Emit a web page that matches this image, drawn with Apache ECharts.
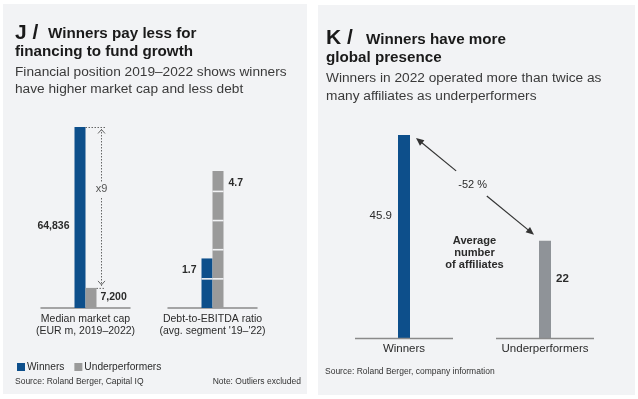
<!DOCTYPE html>
<html>
<head>
<meta charset="utf-8">
<script src="https://cdn.jsdelivr.net/npm/echarts@6/dist/echarts.min.js"></script>
<style>
  html, body { margin: 0; padding: 0; background: #fff; }
  #chart { width: 638px; height: 399px; }
</style>
</head>
<body>
<div id="chart"></div>
<script>
// data
const capCategories = ['Median market cap\n(EUR m, 2019–2022)'];
const capWinners = [64836];
const capUnder = [7200];
const capRatioLabel = 'x9';

const debtCategories = ["Debt-to-EBITDA ratio\n(avg. segment '19–'22)"];
const debtWinners = [1.7];
const debtUnder = [4.7];

const affCategories = ['Winners', 'Underperformers'];
const affValues = [45.9, 22];
const affChangeLabel = '-52 %';

const BLUE = '#0d4f8b';
const GREY = '#9a9a9a';
const GREY_R = '#8f9398';
const PANEL = '#f2f3f5';
const TEXT = '#2b2b2b';
const FONT = '"Liberation Sans", Arial, sans-serif';

const chart = echarts.init(document.getElementById('chart'));

function txt(id, x, y, text, size, opts) {
    opts = opts || {};
    return {
        type: 'text', id: id, x: x, y: y, z: 5,
        style: {
            text: text,
            font: (opts.weight || 'normal') + ' ' + size + 'px ' + FONT,
            fill: opts.color || TEXT,
            align: opts.align || 'left',
            verticalAlign: 'middle',
            lineHeight: opts.lineHeight
        }
    };
}

function numLabel(pos, align, bold, size) {
    return {
        show: true, position: pos, align: align, verticalAlign: 'middle',
        fontSize: size || 10.5, fontWeight: bold ? 'bold' : 'normal', color: TEXT,
        formatter: p => Number(p.value).toLocaleString('en-US')
    };
}

const catAxis = (gi, data, showLine) => ({
    type: 'category', gridIndex: gi, data: data,
    axisTick: { show: false },
    axisLine: { show: showLine, lineStyle: { color: '#8a8a8a', width: 1.5 } },
    axisLabel: {
        color: TEXT, fontSize: gi === 2 ? 11.5 : 10.5, lineHeight: 12,
        margin: 5, interval: 0
    }
});
const valAxis = gi => ({
    type: 'value', gridIndex: gi, min: 0, max: v => v.max, show: false
});

chart.setOption({
    animation: false,
    textStyle: { fontFamily: FONT },
    grid: [
        { left: 41, top: 127, width: 89, height: 181 },
        { left: 168, top: 171, width: 89, height: 137 },
        { left: 333.5, top: 135, width: 282, height: 203 }
    ],
    xAxis: [catAxis(0, capCategories, true), catAxis(1, debtCategories, true), catAxis(2, affCategories, false)],
    yAxis: [valAxis(0), valAxis(1), valAxis(2)],
    legend: {
        left: 12, top: 357, itemWidth: 8, itemHeight: 8, itemGap: 10,
        icon: 'rect', data: ['Winners', 'Underperformers'],
        textStyle: { color: TEXT, fontSize: 10.2, padding: [0, 0, 0, -3] },
        selectedMode: false
    },
    series: [
        {
            type: 'bar', name: 'Winners', xAxisIndex: 0, yAxisIndex: 0, data: capWinners,
            barWidth: 11, barGap: '0%', itemStyle: { color: BLUE },
            label: numLabel([-5, '55%'], 'right', true)
        },
        {
            type: 'bar', name: 'Underperformers', xAxisIndex: 0, yAxisIndex: 0, data: capUnder,
            barWidth: 11, barGap: '0%', itemStyle: { color: GREY },
            label: numLabel([15, 9], 'left', true)
        },
        {
            type: 'bar', name: 'Winners', xAxisIndex: 1, yAxisIndex: 1, data: debtWinners,
            barWidth: 11, barGap: '0%', itemStyle: { color: BLUE },
            label: numLabel([-5, 12], 'right', true)
        },
        {
            type: 'bar', name: 'Underperformers', xAxisIndex: 1, yAxisIndex: 1, data: debtUnder,
            barWidth: 11, barGap: '0%', itemStyle: { color: GREY },
            label: numLabel([16, 12], 'left', true)
        },
        {
            // thin gaps every unit on the debt bars
            type: 'custom', xAxisIndex: 1, yAxisIndex: 1, z: 3, silent: true,
            data: [[0, debtWinners[0], -1], [0, debtUnder[0], 1]],
            renderItem: (params, api) => {
                const val = api.value(1), side = api.value(2);
                const c0 = api.coord([api.value(0), 0]);
                const x0 = side < 0 ? c0[0] - 11 : c0[0];
                const children = [];
                for (let k = 1; k < val; k++) {
                    const y = api.coord([api.value(0), k])[1];
                    children.push({
                        type: 'rect',
                        shape: { x: x0, y: y - 0.8, width: 11, height: 1.6 },
                        style: { fill: PANEL }
                    });
                }
                return { type: 'group', children: children };
            }
        },
        {
            type: 'bar', name: 'Affiliates', xAxisIndex: 2, yAxisIndex: 2, barWidth: 12,
            data: affValues.map((v, i) => ({
                value: v,
                itemStyle: { color: i === 0 ? BLUE : GREY_R },
                label: i === 0
                    ? numLabel([-6, '40%'], 'right', false, 11.5)
                    : numLabel([17, '39%'], 'left', true, 11.5)
            }))
        },
        {
            // separate baseline under each category
            type: 'custom', xAxisIndex: 2, yAxisIndex: 2, z: 3, silent: true,
            data: affCategories.map((c, i) => [i, 0]),
            renderItem: (params, api) => {
                const c = api.coord([api.value(0), 0]);
                return {
                    type: 'line',
                    shape: { x1: c[0] - 49, y1: c[1] + 0.5, x2: c[0] + 49, y2: c[1] + 0.5 },
                    style: { stroke: '#8a8a8a', lineWidth: 1.5 }
                };
            }
        }
    ],
    graphic: { elements: [
        { type: 'rect', id: 'bgL', z: -10, shape: { x: 3, y: 4, width: 304, height: 390 }, style: { fill: PANEL } },
        { type: 'rect', id: 'bgR', z: -10, shape: { x: 318, y: 5, width: 317, height: 390 }, style: { fill: PANEL } },

        txt('jHead', 15, 33, 'J /', 21, { weight: 'bold', color: '#1a1a1a' }),
        txt('jT1', 48, 34, 'Winners pay less for', 15.2, { weight: 'bold', color: '#1a1a1a' }),
        txt('jT2', 15, 52, 'financing to fund growth', 15.2, { weight: 'bold', color: '#1a1a1a' }),
        txt('jS1', 15, 72, 'Financial position 2019–2022 shows winners', 13.7, { color: '#3a3a3a' }),
        txt('jS2', 15, 89.5, 'have higher market cap and less debt', 13.7, { color: '#3a3a3a' }),

        txt('kHead', 326, 38, 'K /', 21, { weight: 'bold', color: '#1a1a1a' }),
        txt('kT1', 366, 40, 'Winners have more', 15.2, { weight: 'bold', color: '#1a1a1a' }),
        txt('kT2', 326, 58, 'global presence', 15.2, { weight: 'bold', color: '#1a1a1a' }),
        txt('kS1', 326, 78.5, 'Winners in 2022 operated more than twice as', 13.7, { color: '#3a3a3a' }),
        txt('kS2', 326, 96, 'many affiliates as underperformers', 13.7, { color: '#3a3a3a' }),

        txt('srcL', 15, 382, 'Source: Roland Berger, Capital IQ', 8.5, { color: '#333' }),
        txt('noteL', 301, 382, 'Note: Outliers excluded', 8.5, { color: '#333', align: 'right' }),
        txt('srcR', 325, 372, 'Source: Roland Berger, company information', 8.5, { color: '#333' })
    ] }
});

// annotations placed from the axes' own pixel conversion
const pCapW = chart.convertToPixel({ xAxisIndex: 0, yAxisIndex: 0 }, [0, capWinners[0]]);
const pCapU = chart.convertToPixel({ xAxisIndex: 0, yAxisIndex: 0 }, [0, capUnder[0]]);
const pAffW = chart.convertToPixel({ xAxisIndex: 2, yAxisIndex: 2 }, [0, affValues[0]]);
const pAffU = chart.convertToPixel({ xAxisIndex: 2, yAxisIndex: 2 }, [1, affValues[1]]);

const vx = pCapW[0] + 16;
const dotted = { stroke: '#666', lineWidth: 1, lineDash: [1.5, 1.5] };
const solid = { stroke: '#666', lineWidth: 1, fill: null };

// diagonal arrow between the affiliate bars
const a0 = [pAffW[0] + 12, pAffW[1] + 3];
const a1 = [pAffU[0] - 11, pAffU[1] - 6];
const lerp = t => [a0[0] + (a1[0] - a0[0]) * t, a0[1] + (a1[1] - a0[1]) * t];
const len = Math.hypot(a1[0] - a0[0], a1[1] - a0[1]);
const ux = (a1[0] - a0[0]) / len, uy = (a1[1] - a0[1]) / len;
function head(tip, dir) {
    const bx = tip[0] - dir * ux * 8, by = tip[1] - dir * uy * 8;
    return [tip, [bx - uy * 3.5, by + ux * 3.5], [bx + uy * 3.5, by - ux * 3.5]];
}
const mid = lerp(0.48);

chart.setOption({ graphic: { elements: [
    { type: 'line', id: 'dTop', z: 5, shape: { x1: pCapW[0], y1: pCapW[1] + 0.5, x2: vx + 4, y2: pCapW[1] + 0.5 }, style: dotted },
    { type: 'line', id: 'dBot', z: 5, shape: { x1: pCapU[0] + 11, y1: pCapU[1] + 0.5, x2: vx + 4, y2: pCapU[1] + 0.5 }, style: dotted },
    { type: 'line', id: 'dVert', z: 5, shape: { x1: vx, y1: pCapW[1] + 2, x2: vx, y2: pCapU[1] - 2 }, style: dotted },
    { type: 'polyline', id: 'chTop', z: 5, shape: { points: [[vx - 3.5, pCapW[1] + 6.5], [vx, pCapW[1] + 2.5], [vx + 3.5, pCapW[1] + 6.5]] }, style: solid },
    { type: 'polyline', id: 'chBot', z: 5, shape: { points: [[vx - 3.5, pCapU[1] - 7], [vx, pCapU[1] - 3], [vx + 3.5, pCapU[1] - 7]] }, style: solid },
    {
        type: 'text', id: 'ratio', z: 6, x: vx, y: (pCapW[1] + pCapU[1]) / 2 - 18,
        style: { text: capRatioLabel, font: '11px ' + FONT, fill: '#555', align: 'center', verticalAlign: 'middle',
                 backgroundColor: PANEL, padding: [2, 0] }
    },

    { type: 'line', id: 'ar1', z: 5, shape: { x1: a0[0] + ux * 6, y1: a0[1] + uy * 6, x2: lerp(0.34)[0], y2: lerp(0.34)[1] }, style: { stroke: '#333', lineWidth: 1.2 } },
    { type: 'line', id: 'ar2', z: 5, shape: { x1: lerp(0.6)[0], y1: lerp(0.6)[1], x2: a1[0] - ux * 6, y2: a1[1] - uy * 6 }, style: { stroke: '#333', lineWidth: 1.2 } },
    { type: 'polygon', id: 'ah1', z: 5, shape: { points: head(a0, -1) }, style: { fill: '#333' } },
    { type: 'polygon', id: 'ah2', z: 5, shape: { points: head(a1, 1) }, style: { fill: '#333' } },
    txt('chg', mid[0], mid[1] + 1, affChangeLabel, 11, { color: TEXT, align: 'center' }),
    txt('avg', (pAffW[0] + pAffU[0]) / 2, 253, 'Average\nnumber\nof affiliates', 11.1, { weight: 'bold', color: TEXT, align: 'center', lineHeight: 12 })
] } });

window.addEventListener('resize', () => chart.resize());
</script>
</body>
</html>
